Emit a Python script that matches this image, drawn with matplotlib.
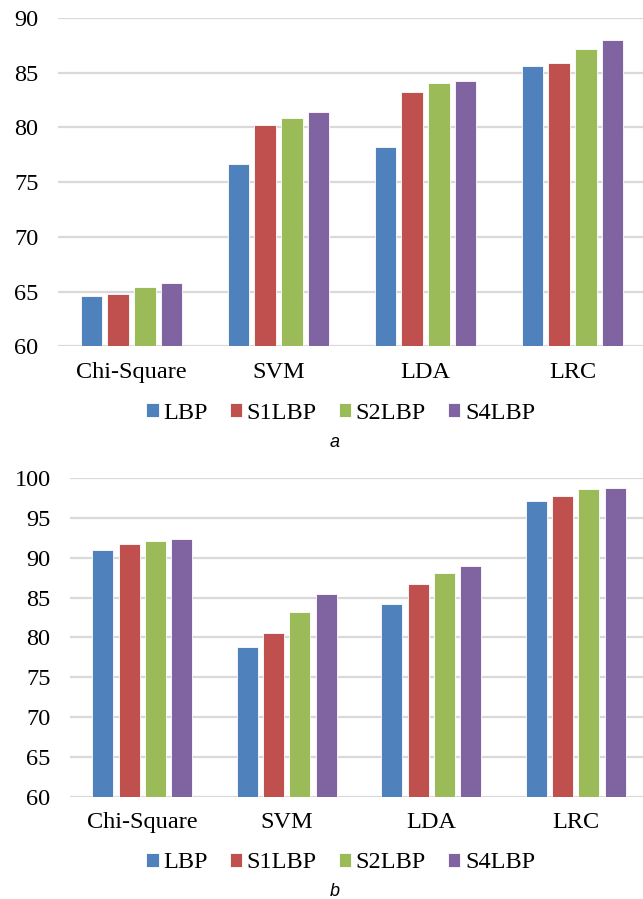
import matplotlib
matplotlib.use("Agg")
import matplotlib.pyplot as plt
import numpy as np

plt.rcParams["font.family"] = ["Liberation Serif", "DejaVu Serif"]

categories = ["Chi-Square", "SVM", "LDA", "LRC"]
series = ["LBP", "S1LBP", "S2LBP", "S4LBP"]
colors = ["#4F81BD", "#C0504D", "#9BBB59", "#8064A2"]

# panel a
vals_a = {
    "LBP":   [64.6, 76.7, 78.2, 85.6],
    "S1LBP": [64.8, 80.2, 83.2, 85.9],
    "S2LBP": [65.4, 80.9, 84.1, 87.2],
    "S4LBP": [65.8, 81.4, 84.2, 88.0],
}
# panel b
vals_b = {
    "LBP":   [91.0, 78.8, 84.2, 97.1],
    "S1LBP": [91.7, 80.6, 86.7, 97.8],
    "S2LBP": [92.1, 83.2, 88.1, 98.6],
    "S4LBP": [92.3, 85.4, 89.0, 98.8],
}
yticks_a = [60, 65, 70, 75, 80, 85, 90]
yticks_b = [60, 65, 70, 75, 80, 85, 90, 95, 100]

W, H = 643, 899
FS = 17.5
fig = plt.figure(figsize=(W / 100, H / 100), dpi=100)


def draw(rect, vals, yticks, leg_y, cap, cap_y):
    ax = fig.add_axes(rect)
    x = np.arange(len(categories))
    step = 0.182
    bw = 0.145
    for i, s in enumerate(series):
        ax.bar(x + (i - 1.5) * step, vals[s], width=bw, color=colors[i],
               edgecolor="white", linewidth=0.6, label=s, zorder=3)
    ax.set_xlim(-0.5, len(categories) - 0.5)
    ax.set_ylim(yticks[0], yticks[-1])
    ax.set_yticks(yticks)
    ax.set_xticks(x)
    ax.set_xticklabels(categories)
    ax.tick_params(axis="both", length=0, labelsize=FS, colors="black")
    ax.tick_params(axis="y", pad=14)
    ax.tick_params(axis="x", pad=11)
    ax.grid(axis="y", color="#d9d9d9", linewidth=1.6, zorder=0)
    ax.set_axisbelow(True)
    for sp in ax.spines.values():
        sp.set_visible(False)
    ax.legend(loc="center", bbox_to_anchor=(0.53, leg_y), bbox_transform=fig.transFigure,
              ncol=4, frameon=False, fontsize=FS, handlelength=0.5, handleheight=0.5,
              handletextpad=0.2, columnspacing=0.9, borderaxespad=0)
    fig.text(0.52, cap_y, cap, fontsize=13, style="italic",
             family=["Liberation Sans", "DejaVu Sans"], ha="center", va="center")
    return ax


draw([58 / W, 1 - 346.3 / H, 588 / W, (346.3 - 18) / H], vals_a, yticks_a,
     1 - 413 / H, "a", 1 - 443 / H)
draw([70 / W, 1 - 796.7 / H, 578 / W, (796.7 - 478) / H], vals_b, yticks_b,
     1 - 863 / H, "b", 1 - 892 / H)

fig.savefig("out.png", dpi=100)
